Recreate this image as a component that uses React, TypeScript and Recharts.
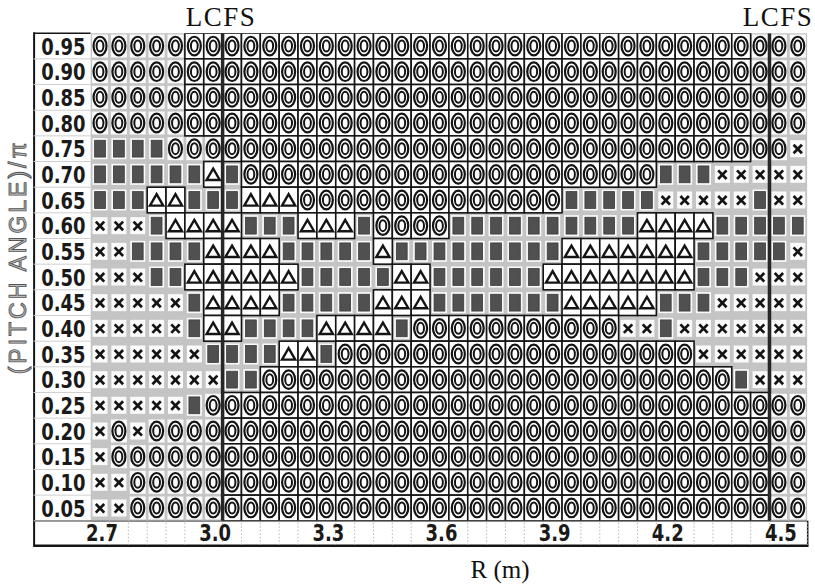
import React from 'react';
import { ScatterChart, Scatter, XAxis, YAxis, Customized } from 'recharts';

// ---------- data ----------
const pitchAngles = [0.95, 0.9, 0.85, 0.8, 0.75, 0.7, 0.65, 0.6, 0.55, 0.5, 0.45, 0.4, 0.35, 0.3, 0.25, 0.2, 0.15, 0.1, 0.05];

const rValues = [
  2.7, 2.75, 2.8, 2.85, 2.9, 2.95, 3.0, 3.05, 3.1, 3.15, 3.2, 3.25, 3.3, 3.35, 3.4, 3.45, 3.5, 3.55, 3.6,
  3.65, 3.7, 3.75, 3.8, 3.85, 3.9, 3.95, 4.0, 4.05, 4.1, 4.15, 4.2, 4.25, 4.3, 4.35, 4.4, 4.45, 4.5, 4.55,
];

const rTickLabels = [2.7, 3.0, 3.3, 3.6, 3.9, 4.2, 4.5];

const lcfsPositions = [3.025, 4.475];

// O = double circle, S = filled square, T = triangle, X = cross (one char per R column, spaces ignored)
const symbolRows = [
  'OOOOO OOOOO OOOOO OOOOO OOOOO OOOOO OOOOO OOO', // 0.95
  'OOOOO OOOOO OOOOO OOOOO OOOOO OOOOO OOOOO OOO', // 0.90
  'OOOOO OOOOO OOOOO OOOOO OOOOO OOOOO OOOOO OOO', // 0.85
  'OOOOO OOOOO OOOOO OOOOO OOOOO OOOOO OOOOO OOO', // 0.80
  'SSSSO OOOOO OOOOO OOOOO OOOOO OOOOO OOOOO OOX', // 0.75
  'SSSSS STSOO OOOOO OOOOO OOOOO OOOOO SSSXX XXX', // 0.70
  'SSSTT SSSTT TOOOO OOOOO OOOOO SSSSS XXXXX SXX', // 0.65
  'XXXST TTTSS STTTS OOOOS SSSSS SSSST TTTSS SSS', // 0.60
  'XXSSS STTTT SSSSS TSSSS SSSSS TTTTT TTSSS SSX', // 0.55
  'XXXSS TTTTT TSSSS STTSS SSSST TTTTT TTSSS XXX', // 0.50
  'XXXXX STTTT SSSSS TTTSS SSSSS TTTTT SSSXX XXX', // 0.45
  'XXXXX STTSS SSTTT TSOOO OOOOO OOOXX SXXXX XXX', // 0.40
  'XXXXX XSSSS TTSOO OOOOO OOOOO OOOOO OOXXX XXX', // 0.35
  'XXXXX XXSSO OOOOO OOOOO OOOOO OOOOO OOOOS XXX', // 0.30
  'XXXXX SOOOO OOOOO OOOOO OOOOO OOOOO OOOOO OOO', // 0.25
  'XOXOO OOOOO OOOOO OOOOO OOOOO OOOOO OOOOO OOO', // 0.20
  'XOOOO OOOOO OOOOO OOOOO OOOOO OOOOO OOOOO OOO', // 0.15
  'XXOOO OOOOO OOOOO OOOOO OOOOO OOOOO OOOOO OOO', // 0.10
  'XXOOO OOOOO OOOOO OOOOO OOOOO OOOOO OOOOO OOO', // 0.05
];

// ---------- layout ----------
const CHART_W = 815;
const CHART_H = 585;
const MARGIN = { top: 33.2, right: 7.8, bottom: 39.2, left: 33.6 };
const Y_AXIS_W = 57;
const X_AXIS_H = 25;
const PLOT_LEFT = MARGIN.left + Y_AXIS_W;
const PLOT_RIGHT = CHART_W - MARGIN.right;
const PLOT_TOP = MARGIN.top;
const PLOT_BOTTOM = CHART_H - MARGIN.bottom - X_AXIS_H;
const CELL_W = (PLOT_RIGHT - PLOT_LEFT) / rValues.length;
const CELL_H = (PLOT_BOTTOM - PLOT_TOP) / pitchAngles.length;
const HALF_R = (rValues[1] - rValues[0]) / 2;
const HALF_P = (pitchAngles[0] - pitchAngles[1]) / 2;
const X_DOMAIN = [rValues[0] - HALF_R, rValues[rValues.length - 1] + HALF_R];
const Y_DOMAIN = [pitchAngles[pitchAngles.length - 1] - HALF_P, pitchAngles[0] + HALF_P];

const GRAY = '#c4c4c4';
const INK = '#141414';
const SANS = "'Liberation Sans Narrow', 'DejaVu Sans Condensed', 'Liberation Sans', Arial, sans-serif";
const SERIF = "'Liberation Serif', 'DejaVu Serif', serif";

const cells = pitchAngles.flatMap((p, i) =>
  symbolRows[i]
    .replace(/ /g, '')
    .split('')
    .map((sym, j) => ({ r: rValues[j], p, sym, col: j }))
);

const lcfsSeries = lcfsPositions.map((r) => [
  { r, p: Y_DOMAIN[1] },
  { r, p: Y_DOMAIN[0] },
]);

const isBordered = (sym: string, col: number, p: number) => {
  if (sym === 'T') return true;
  if (sym !== 'O') return false;
  const lo = p >= 0.8 ? 5 : 7;
  const hi = p <= 0.25 ? 35 : 34;
  return col >= lo && col <= hi;
};

const PATCH: Record<string, { w: number; h: number }> = {
  O: { w: 16, h: 23 },
  S: { w: 15, h: 21 },
  T: { w: 17, h: 19 },
  X: { w: 15, h: 17 },
};

// ---------- shapes ----------
const BgShape = (props: any) => {
  const { cx, cy } = props;
  if (cx == null || cy == null) return <g />;
  return (
    <rect x={cx - CELL_W / 2 - 0.4} y={cy - CELL_H / 2 - 0.4} width={CELL_W + 0.8} height={CELL_H + 0.8} fill={GRAY} />
  );
};

const PatchShape = (props: any) => {
  const { cx, cy, payload } = props;
  if (cx == null || cy == null || !payload) return <g />;
  const { sym, col, p } = payload;
  if (isBordered(sym, col, p)) {
    return (
      <rect
        x={cx - CELL_W / 2}
        y={cy - CELL_H / 2}
        width={CELL_W}
        height={CELL_H}
        fill="#ffffff"
        stroke={INK}
        strokeWidth={1.6}
      />
    );
  }
  const s = PATCH[sym];
  return <rect x={cx - s.w / 2} y={cy - s.h / 2} width={s.w} height={s.h} fill="#fafafa" />;
};

const SymbolShape = (props: any) => {
  const { cx, cy, payload } = props;
  if (cx == null || cy == null || !payload) return <g />;
  switch (payload.sym) {
    case 'O':
      return (
        <g fill="none" stroke={INK}>
          <ellipse cx={cx} cy={cy} rx={6.5} ry={9.3} strokeWidth={2.2} />
          <ellipse cx={cx} cy={cy} rx={3.4} ry={5.5} strokeWidth={2} />
        </g>
      );
    case 'S':
      return <rect x={cx - 5.4} y={cy - 8.4} width={10.8} height={16.8} fill="#505050" stroke="#3a3a3a" strokeWidth={0.8} />;
    case 'T':
      return (
        <path
          d={`M${cx},${cy - 5.8} L${cx + 6.6},${cy + 5.6} L${cx - 6.6},${cy + 5.6} Z`}
          fill="none"
          stroke={INK}
          strokeWidth={2.4}
          strokeLinejoin="miter"
        />
      );
    case 'X':
      return (
        <g stroke={INK} strokeWidth={2.7}>
          <line x1={cx - 4.2} y1={cy - 4} x2={cx + 4.2} y2={cy + 4.6} />
          <line x1={cx + 4.2} y1={cy - 4} x2={cx - 4.2} y2={cy + 4.6} />
        </g>
      );
    default:
      return <g />;
  }
};

const NoDot = () => <g />;

// ---------- axes ticks ----------
const YTick = (props: any) => {
  const { x, y, payload } = props;
  return (
    <g>
      <line x1={MARGIN.left} x2={PLOT_LEFT} y1={y + CELL_H / 2} y2={y + CELL_H / 2} stroke="#cfcfcf" strokeWidth={1} />
      <text
        transform={`translate(${x},${y + 8.6}) scale(1,1.18)`}
        x={0}
        y={0}
        textAnchor="end"
        fontFamily={SANS}
        fontWeight="bold"
        fontSize={20}
        fill="#1a1a1a"
      >
        {Number(payload.value).toFixed(2)}
      </text>
    </g>
  );
};

const XTick = (props: any) => {
  const { x, y, payload } = props;
  const v = Number(payload.value);
  const isLabel = rTickLabels.some((t) => Math.abs(t - v) < 1e-6);
  return (
    <g>
      <line
        x1={x + CELL_W / 2}
        x2={x + CELL_W / 2}
        y1={y + 2}
        y2={y + X_AXIS_H - 1}
        stroke="#b4b4b4"
        strokeWidth={1}
        strokeDasharray="1.5 2"
      />
      {isLabel && (
        <text
          transform={`translate(${x + 2},${y + 20}) scale(1,1.15)`}
          x={0}
          y={0}
          textAnchor="middle"
          fontFamily={SANS}
          fontWeight="bold"
          fontSize={20}
          fill="#1a1a1a"
        >
          {v.toFixed(1)}
        </text>
      )}
    </g>
  );
};

// ---------- decorations ----------
const Decor = () => {
  const titleCx = 18;
  const titleCy = 257;
  return (
    <g>
      <line x1={MARGIN.left + 0.5} y1={PLOT_TOP - 1} x2={MARGIN.left + 0.5} y2={PLOT_BOTTOM + X_AXIS_H + 1} stroke={INK} strokeWidth={2} />
      <line x1={MARGIN.left} y1={PLOT_TOP} x2={PLOT_LEFT} y2={PLOT_TOP} stroke={INK} strokeWidth={1.5} />
      <line x1={MARGIN.left} y1={PLOT_BOTTOM} x2={PLOT_RIGHT} y2={PLOT_BOTTOM} stroke={INK} strokeWidth={1.5} />
      <line x1={MARGIN.left} y1={PLOT_BOTTOM + X_AXIS_H} x2={PLOT_RIGHT + 1} y2={PLOT_BOTTOM + X_AXIS_H} stroke={INK} strokeWidth={2.5} />
      <line x1={PLOT_RIGHT + 0.5} y1={PLOT_BOTTOM} x2={PLOT_RIGHT + 0.5} y2={PLOT_BOTTOM + X_AXIS_H + 1} stroke={INK} strokeWidth={1.5} />
      <text x={221} y={26} textAnchor="middle" fontFamily={SERIF} fontSize={27} letterSpacing={1.5} fill="#111">
        LCFS
      </text>
      <text x={778} y={26} textAnchor="middle" fontFamily={SERIF} fontSize={27} letterSpacing={1.5} fill="#111">
        LCFS
      </text>
      <text x={500} y={578} textAnchor="middle" fontFamily={SERIF} fontSize={25} fill="#111">
        R (m)
      </text>
      <text
        x={titleCx}
        y={titleCy}
        transform={`rotate(-90 ${titleCx} ${titleCy})`}
        dy={8}
        textAnchor="middle"
        fontFamily="'Liberation Sans', Arial, sans-serif"
        fontSize={23}
        letterSpacing={3}
        fill="#bdbdbd"
        stroke="#555"
        strokeWidth={0.9}
      >
        (PITCH ANGLE)/π
      </text>
    </g>
  );
};

export default function App() {
  return (
    <div style={{ position: 'absolute', left: 0, top: 0, width: CHART_W, height: CHART_H, background: '#fff' }}>
      <ScatterChart width={CHART_W} height={CHART_H} margin={MARGIN}>
        <XAxis
          type="number"
          dataKey="r"
          domain={X_DOMAIN}
          allowDataOverflow
          ticks={rValues}
          interval={0}
          height={X_AXIS_H}
          axisLine={false}
          tickLine={false}
          tickSize={0}
          tickMargin={0}
          tick={<XTick />}
        />
        <YAxis
          type="number"
          dataKey="p"
          domain={Y_DOMAIN}
          allowDataOverflow
          ticks={pitchAngles}
          interval={0}
          width={Y_AXIS_W}
          axisLine={false}
          tickLine={false}
          tickSize={0}
          tickMargin={5}
          tick={<YTick />}
        />
        <Scatter data={cells} shape={BgShape} isAnimationActive={false} />
        <Scatter data={cells} shape={PatchShape} isAnimationActive={false} />
        <Scatter data={cells} shape={SymbolShape} isAnimationActive={false} />
        {lcfsSeries.map((seg, i) => (
          <Scatter
            key={`lcfs-${i}`}
            data={seg}
            shape={NoDot}
            line={{ stroke: '#262626', strokeWidth: 3.5 }}
            lineType="joint"
            isAnimationActive={false}
          />
        ))}
        <Customized component={Decor} />
      </ScatterChart>
    </div>
  );
}
